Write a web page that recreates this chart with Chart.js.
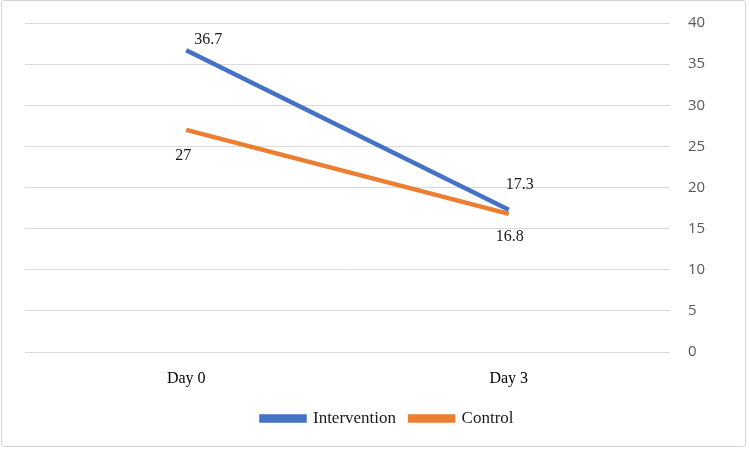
<!DOCTYPE html>
<html>
<head>
<meta charset="utf-8">
<script src="https://cdn.jsdelivr.net/npm/chart.js@4"></script>
<style>
html,body{margin:0;padding:0;background:#fff;}
#wrap{position:relative;width:750px;height:449px;}
#frame{position:absolute;left:1px;top:0px;width:743px;height:445px;border:1px solid #d4d4d4;border-radius:3px;pointer-events:none;}
</style>
</head>
<body>
<div id="wrap">
<canvas id="c" width="750" height="449"></canvas>
<div id="frame"></div>
</div>
<script>
const categories = ["Day 0", "Day 3"];
const intervention = [36.7, 17.3];
const control = [27, 16.8];
const yTicks = [0, 5, 10, 15, 20, 25, 30, 35, 40];

const labelOffsets = [
  [[22, -10], [11, -25]],
  [[-3, 26], [1, 23]]
];

const dataLabels = {
  id: 'dataLabels',
  afterDatasetsDraw(chart) {
    const ctx = chart.ctx;
    ctx.save();
    ctx.font = '16px "Liberation Serif", "Times New Roman", serif';
    ctx.fillStyle = '#1a1a1a';
    ctx.textAlign = 'center';
    ctx.textBaseline = 'middle';
    chart.data.datasets.forEach((ds, i) => {
      const meta = chart.getDatasetMeta(i);
      meta.data.forEach((pt, j) => {
        const o = labelOffsets[i][j];
        ctx.fillText(String(ds.data[j]), pt.x + o[0], pt.y + o[1]);
      });
    });
    ctx.restore();
  }
};

new Chart(document.getElementById('c'), {
  type: 'line',
  data: {
    labels: categories,
    datasets: [
      { label: 'Intervention', data: intervention, borderColor: '#4472C4', backgroundColor: '#4472C4', borderWidth: 4.5, pointRadius: 0, tension: 0 },
      { label: 'Control', data: control, borderColor: '#ED7D31', backgroundColor: '#ED7D31', borderWidth: 4.5, pointRadius: 0, tension: 0 }
    ]
  },
  options: {
    responsive: false,
    animation: false,
    devicePixelRatio: 1,
    layout: { padding: { top: 23, left: 25, right: 0, bottom: 12 } },
    scales: {
      x: {
        offset: true,
        grid: { display: false },
        border: { display: false },
        ticks: { color: '#000', font: { family: '"Liberation Serif", "Times New Roman", serif', size: 16 }, padding: 9 },
        afterFit(s) { s.height = 44; s.paddingLeft = 0; s.paddingRight = 0; }
      },
      y: {
        position: 'right',
        min: 0, max: 40,
        afterBuildTicks(s) { s.ticks = yTicks.map(v => ({ value: v })); },
        grid: { color: '#d9d9d9', lineWidth: 1, drawTicks: false },
        border: { display: false },
        ticks: { color: '#595959', font: { family: '"Open Sans", sans-serif', size: 15 }, padding: 18 },
        afterFit(s) { s.width = 80; s.paddingTop = 0; s.paddingBottom = 0; }
      }
    },
    plugins: {
      legend: {
        position: 'bottom',
        labels: {
          boxWidth: 43, boxHeight: 4,
          color: '#1a1a1a',
          font: { family: '"Liberation Serif", "Times New Roman", serif', size: 17 },
          padding: 14
        }
      },
      tooltip: { enabled: false }
    }
  },
  plugins: [dataLabels]
});
</script>
</body>
</html>
